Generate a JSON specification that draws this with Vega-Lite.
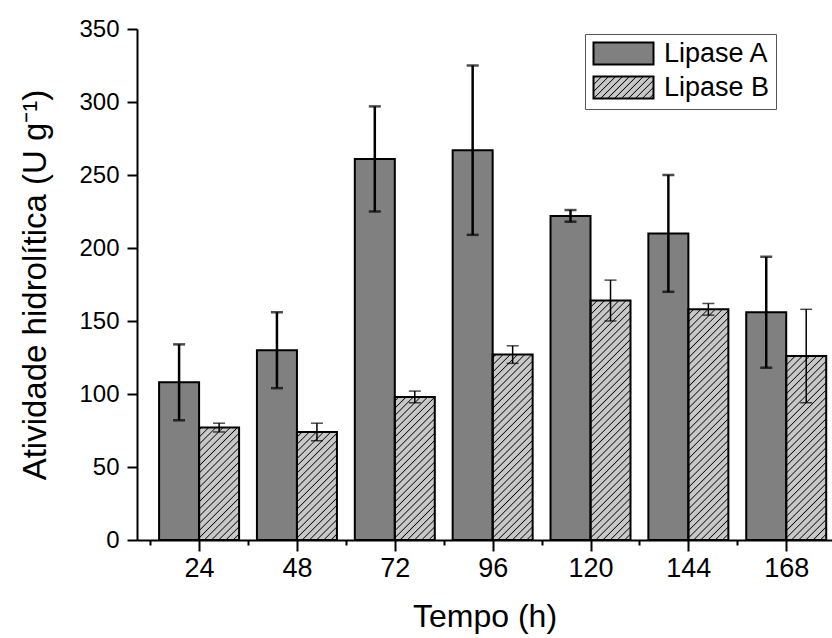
{
  "$schema": "https://vega.github.io/schema/vega-lite/v6.json",
  "width": 695,
  "height": 511,
  "autosize": {"type": "none"},
  "padding": {"left": 137, "top": 29, "right": 0, "bottom": 98},
  "background": "white",
  "config": {
    "view": {"stroke": null},
    "font": "Liberation Sans",
    "axis": {
      "domainColor": "black",
      "domainWidth": 2,
      "tickColor": "black",
      "tickWidth": 2,
      "grid": false,
      "labelColor": "black",
      "titleColor": "black",
      "labelFont": "Liberation Sans",
      "titleFont": "Liberation Sans",
      "titleFontWeight": "normal",
      "labelOverlap": false,
      "labelFlush": false,
      "labelBound": false
    }
  },
  "data": {
    "values": [
      {"t": 24, "series": "Lipase A", "value": 108, "err": 26},
      {"t": 24, "series": "Lipase B", "value": 77, "err": 3},
      {"t": 48, "series": "Lipase A", "value": 130, "err": 26},
      {"t": 48, "series": "Lipase B", "value": 74, "err": 6},
      {"t": 72, "series": "Lipase A", "value": 261, "err": 36},
      {"t": 72, "series": "Lipase B", "value": 98, "err": 4},
      {"t": 96, "series": "Lipase A", "value": 267, "err": 58},
      {"t": 96, "series": "Lipase B", "value": 127, "err": 6},
      {"t": 120, "series": "Lipase A", "value": 222, "err": 4},
      {"t": 120, "series": "Lipase B", "value": 164, "err": 14},
      {"t": 144, "series": "Lipase A", "value": 210, "err": 40},
      {"t": 144, "series": "Lipase B", "value": 158, "err": 4},
      {"t": 168, "series": "Lipase A", "value": 156, "err": 38},
      {"t": 168, "series": "Lipase B", "value": 126, "err": 32}
    ]
  },
  "encoding": {
    "x": {
      "field": "t",
      "type": "quantitative",
      "scale": {"domain": [10, 178], "nice": false, "zero": false},
      "axis": {
        "values": [12, 24, 36, 48, 60, 72, 84, 96, 108, 120, 132, 144, 156, 168],
        "labelExpr": "datum.value % 24 === 0 ? datum.label : ''",
        "tickSize": {"condition": {"test": "datum.value % 24 === 0", "value": 11}, "value": 5},
        "labelFontSize": 27,
        "labelPadding": 4,
        "title": "Tempo (h)",
        "titleFontSize": 32,
        "titlePadding": 20
      }
    }
  },
  "layer": [
    {
      "transform": [{"filter": "datum.series === 'Lipase B'"}],
      "mark": {
        "type": "bar",
        "orient": "vertical",
        "width": 40,
        "xOffset": 20,
        "stroke": null,
        "fill": {
          "gradient": "linear",
          "x1": 0, "y1": 0, "x2": 0.1824, "y2": 1.132,
          "stops": [
            {"offset": 0, "color": "#c8c8c8"}, {"offset": 0.004, "color": "#111111"}, {"offset": 0.008, "color": "#c8c8c8"},
            {"offset": 0.025, "color": "#c8c8c8"}, {"offset": 0.029, "color": "#111111"}, {"offset": 0.033, "color": "#c8c8c8"},
            {"offset": 0.05, "color": "#c8c8c8"}, {"offset": 0.054, "color": "#111111"}, {"offset": 0.058, "color": "#c8c8c8"},
            {"offset": 0.075, "color": "#c8c8c8"}, {"offset": 0.079, "color": "#111111"}, {"offset": 0.083, "color": "#c8c8c8"},
            {"offset": 0.1, "color": "#c8c8c8"}, {"offset": 0.104, "color": "#111111"}, {"offset": 0.108, "color": "#c8c8c8"},
            {"offset": 0.125, "color": "#c8c8c8"}, {"offset": 0.129, "color": "#111111"}, {"offset": 0.133, "color": "#c8c8c8"},
            {"offset": 0.15, "color": "#c8c8c8"}, {"offset": 0.154, "color": "#111111"}, {"offset": 0.158, "color": "#c8c8c8"},
            {"offset": 0.175, "color": "#c8c8c8"}, {"offset": 0.179, "color": "#111111"}, {"offset": 0.183, "color": "#c8c8c8"},
            {"offset": 0.2, "color": "#c8c8c8"}, {"offset": 0.204, "color": "#111111"}, {"offset": 0.208, "color": "#c8c8c8"},
            {"offset": 0.225, "color": "#c8c8c8"}, {"offset": 0.229, "color": "#111111"}, {"offset": 0.233, "color": "#c8c8c8"},
            {"offset": 0.25, "color": "#c8c8c8"}, {"offset": 0.254, "color": "#111111"}, {"offset": 0.258, "color": "#c8c8c8"},
            {"offset": 0.275, "color": "#c8c8c8"}, {"offset": 0.279, "color": "#111111"}, {"offset": 0.283, "color": "#c8c8c8"},
            {"offset": 0.3, "color": "#c8c8c8"}, {"offset": 0.304, "color": "#111111"}, {"offset": 0.308, "color": "#c8c8c8"},
            {"offset": 0.325, "color": "#c8c8c8"}, {"offset": 0.329, "color": "#111111"}, {"offset": 0.333, "color": "#c8c8c8"},
            {"offset": 0.35, "color": "#c8c8c8"}, {"offset": 0.354, "color": "#111111"}, {"offset": 0.358, "color": "#c8c8c8"},
            {"offset": 0.375, "color": "#c8c8c8"}, {"offset": 0.379, "color": "#111111"}, {"offset": 0.383, "color": "#c8c8c8"},
            {"offset": 0.4, "color": "#c8c8c8"}, {"offset": 0.404, "color": "#111111"}, {"offset": 0.408, "color": "#c8c8c8"},
            {"offset": 0.425, "color": "#c8c8c8"}, {"offset": 0.429, "color": "#111111"}, {"offset": 0.433, "color": "#c8c8c8"},
            {"offset": 0.45, "color": "#c8c8c8"}, {"offset": 0.454, "color": "#111111"}, {"offset": 0.458, "color": "#c8c8c8"},
            {"offset": 0.475, "color": "#c8c8c8"}, {"offset": 0.479, "color": "#111111"}, {"offset": 0.483, "color": "#c8c8c8"},
            {"offset": 0.5, "color": "#c8c8c8"}, {"offset": 0.504, "color": "#111111"}, {"offset": 0.508, "color": "#c8c8c8"},
            {"offset": 0.525, "color": "#c8c8c8"}, {"offset": 0.529, "color": "#111111"}, {"offset": 0.533, "color": "#c8c8c8"},
            {"offset": 0.55, "color": "#c8c8c8"}, {"offset": 0.554, "color": "#111111"}, {"offset": 0.558, "color": "#c8c8c8"},
            {"offset": 0.575, "color": "#c8c8c8"}, {"offset": 0.579, "color": "#111111"}, {"offset": 0.583, "color": "#c8c8c8"},
            {"offset": 0.6, "color": "#c8c8c8"}, {"offset": 0.604, "color": "#111111"}, {"offset": 0.608, "color": "#c8c8c8"},
            {"offset": 0.625, "color": "#c8c8c8"}, {"offset": 0.629, "color": "#111111"}, {"offset": 0.633, "color": "#c8c8c8"},
            {"offset": 0.65, "color": "#c8c8c8"}, {"offset": 0.654, "color": "#111111"}, {"offset": 0.658, "color": "#c8c8c8"},
            {"offset": 0.675, "color": "#c8c8c8"}, {"offset": 0.679, "color": "#111111"}, {"offset": 0.683, "color": "#c8c8c8"},
            {"offset": 0.7, "color": "#c8c8c8"}, {"offset": 0.704, "color": "#111111"}, {"offset": 0.708, "color": "#c8c8c8"},
            {"offset": 0.725, "color": "#c8c8c8"}, {"offset": 0.729, "color": "#111111"}, {"offset": 0.733, "color": "#c8c8c8"},
            {"offset": 0.75, "color": "#c8c8c8"}, {"offset": 0.754, "color": "#111111"}, {"offset": 0.758, "color": "#c8c8c8"},
            {"offset": 0.775, "color": "#c8c8c8"}, {"offset": 0.779, "color": "#111111"}, {"offset": 0.783, "color": "#c8c8c8"},
            {"offset": 0.8, "color": "#c8c8c8"}, {"offset": 0.804, "color": "#111111"}, {"offset": 0.808, "color": "#c8c8c8"},
            {"offset": 0.825, "color": "#c8c8c8"}, {"offset": 0.829, "color": "#111111"}, {"offset": 0.833, "color": "#c8c8c8"},
            {"offset": 0.85, "color": "#c8c8c8"}, {"offset": 0.854, "color": "#111111"}, {"offset": 0.858, "color": "#c8c8c8"},
            {"offset": 0.875, "color": "#c8c8c8"}, {"offset": 0.879, "color": "#111111"}, {"offset": 0.883, "color": "#c8c8c8"},
            {"offset": 0.9, "color": "#c8c8c8"}, {"offset": 0.904, "color": "#111111"}, {"offset": 0.908, "color": "#c8c8c8"},
            {"offset": 0.925, "color": "#c8c8c8"}, {"offset": 0.929, "color": "#111111"}, {"offset": 0.933, "color": "#c8c8c8"},
            {"offset": 0.95, "color": "#c8c8c8"}, {"offset": 0.954, "color": "#111111"}, {"offset": 0.958, "color": "#c8c8c8"},
            {"offset": 0.975, "color": "#c8c8c8"}, {"offset": 0.979, "color": "#111111"}, {"offset": 0.983, "color": "#c8c8c8"},
            {"offset": 1, "color": "#c8c8c8"}
          ]
        }
      },
      "encoding": {
        "y": {"datum": 0, "type": "quantitative", "title": "Atividade hidrolítica (U g⁻¹)"},
        "y2": {"datum": 170}
      }
    },
    {
      "transform": [{"filter": "datum.series === 'Lipase B'"}],
      "mark": {"type": "bar", "orient": "vertical", "width": 42, "xOffset": 20, "fill": "white", "stroke": null},
      "encoding": {
        "y": {"field": "value", "type": "quantitative", "title": "Atividade hidrolítica (U g⁻¹)"},
        "y2": {"datum": 175}
      }
    },
    {
      "transform": [{"filter": "datum.series === 'Lipase A'"}],
      "mark": {"type": "bar", "orient": "vertical", "width": 40, "xOffset": -20, "strokeWidth": 2},
      "encoding": {
        "y": {
          "field": "value",
          "type": "quantitative",
          "title": "Atividade hidrolítica (U g⁻¹)",
          "scale": {"domain": [0, 350], "nice": false, "zero": true},
          "axis": {
            "values": [0, 25, 50, 75, 100, 125, 150, 175, 200, 225, 250, 275, 300, 325, 350],
            "labelExpr": "datum.value % 50 === 0 ? datum.label : ''",
            "tickSize": {"condition": {"test": "datum.value % 50 === 0", "value": 10}, "value": 5},
            "labelFontSize": 24,
            "labelPadding": 8,
            "titleFontSize": 33,
            "titlePadding": 26
          }
        },
        "fill": {
          "field": "series",
          "type": "nominal",
          "scale": {"domain": ["Lipase A"], "range": ["#808080"]},
          "legend": null
        },
        "stroke": {
          "field": "series",
          "type": "nominal",
          "scale": {"domain": ["Lipase A", "Lipase B"], "range": ["black", "black"]},
          "legend": {
            "orient": "none",
            "legendX": 448,
            "legendY": 5,
            "title": null,
            "symbolType": "M-1,-1H4.4545V1H-1Z",
            "symbolSize": 484,
            "symbolStrokeWidth": 2,
            "symbolFillColor": "#808080",
            "labelFontSize": 27,
            "labelColor": "black",
            "labelFont": "Liberation Sans",
            "labelOffset": 46,
            "labelLimit": 0,
            "padding": 6,
            "rowPadding": 3,
            "strokeColor": "#555555",
            "fillColor": "white",
            "encode": {
              "symbols": {
                "update": {
                  "fill": [
                    {
                      "test": "datum.index === 1",
                      "value": {
                        "gradient": "linear",
                        "x1": 0, "y1": 0, "x2": 1.2048, "y2": 0.4418,
                        "stops": [
                          {"offset": 0, "color": "#c8c8c8"}, {"offset": 0.014, "color": "#111111"}, {"offset": 0.028, "color": "#c8c8c8"},
                          {"offset": 0.085, "color": "#c8c8c8"}, {"offset": 0.099, "color": "#111111"}, {"offset": 0.113, "color": "#c8c8c8"},
                          {"offset": 0.17, "color": "#c8c8c8"}, {"offset": 0.184, "color": "#111111"}, {"offset": 0.198, "color": "#c8c8c8"},
                          {"offset": 0.255, "color": "#c8c8c8"}, {"offset": 0.269, "color": "#111111"}, {"offset": 0.283, "color": "#c8c8c8"},
                          {"offset": 0.34, "color": "#c8c8c8"}, {"offset": 0.354, "color": "#111111"}, {"offset": 0.368, "color": "#c8c8c8"},
                          {"offset": 0.425, "color": "#c8c8c8"}, {"offset": 0.439, "color": "#111111"}, {"offset": 0.453, "color": "#c8c8c8"},
                          {"offset": 0.51, "color": "#c8c8c8"}, {"offset": 0.524, "color": "#111111"}, {"offset": 0.538, "color": "#c8c8c8"},
                          {"offset": 0.595, "color": "#c8c8c8"}, {"offset": 0.609, "color": "#111111"}, {"offset": 0.623, "color": "#c8c8c8"},
                          {"offset": 0.68, "color": "#c8c8c8"}, {"offset": 0.694, "color": "#111111"}, {"offset": 0.708, "color": "#c8c8c8"},
                          {"offset": 0.765, "color": "#c8c8c8"}, {"offset": 0.779, "color": "#111111"}, {"offset": 0.793, "color": "#c8c8c8"},
                          {"offset": 0.85, "color": "#c8c8c8"}, {"offset": 0.864, "color": "#111111"}, {"offset": 0.878, "color": "#c8c8c8"},
                          {"offset": 0.935, "color": "#c8c8c8"}, {"offset": 0.949, "color": "#111111"}, {"offset": 0.963, "color": "#c8c8c8"},
                          {"offset": 1, "color": "#c8c8c8"}
                        ]
                      }
                    },
                    {"value": "#808080"}
                  ]
                }
              }
            }
          }
        }
      }
    },
    {
      "transform": [{"filter": "datum.series === 'Lipase B'"}],
      "mark": {"type": "bar", "orient": "vertical", "width": 40, "xOffset": 20, "fillOpacity": 0, "stroke": "black", "strokeWidth": 2},
      "encoding": {
        "y": {"field": "value", "type": "quantitative", "title": "Atividade hidrolítica (U g⁻¹)"}
      }
    },
    {
      "transform": [{"filter": "datum.series === 'Lipase A'"}],
      "mark": {
        "type": "errorbar",
        "color": "black",
        "thickness": 2.5,
        "size": 12,
        "rule": {"xOffset": -20},
        "ticks": {"xOffset": -20}
      },
      "encoding": {
        "y": {"field": "value", "type": "quantitative", "title": "Atividade hidrolítica (U g⁻¹)"},
        "yError": {"field": "err"}
      }
    },
    {
      "transform": [{"filter": "datum.series === 'Lipase B'"}],
      "mark": {
        "type": "errorbar",
        "color": "black",
        "thickness": 1.5,
        "size": 12,
        "rule": {"xOffset": 20},
        "ticks": {"xOffset": 20}
      },
      "encoding": {
        "y": {"field": "value", "type": "quantitative", "title": "Atividade hidrolítica (U g⁻¹)"},
        "yError": {"field": "err"}
      }
    }
  ]
}
